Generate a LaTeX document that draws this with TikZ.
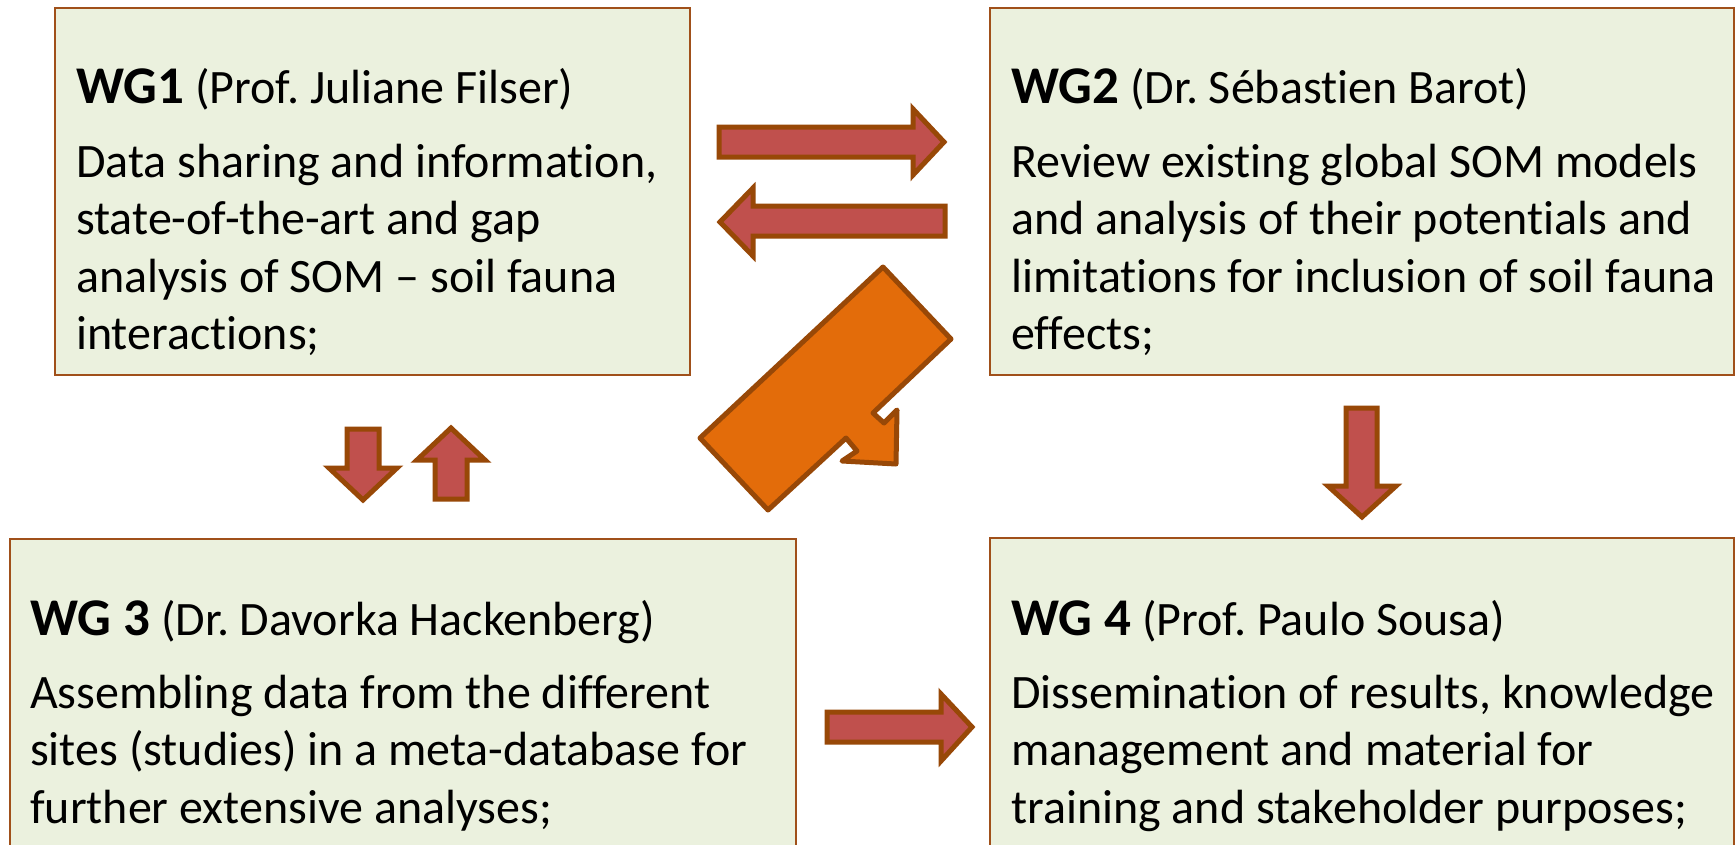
\documentclass[tikz,border=0pt]{standalone}
\usepackage{fontspec}
\setmainfont{Carlito}[RawFeature=-liga]
\frenchspacing
\definecolor{boxfill}{HTML}{EBF1DE}
\definecolor{boxedge}{HTML}{A0501A}
\definecolor{arrowred}{HTML}{C0504D}
\definecolor{arrowedge}{HTML}{984807}
\definecolor{arroworange}{HTML}{E36C0A}
\tikzset{
  wgbox/.style={draw=boxedge, fill=boxfill, line width=2pt},
  redarrow/.style={fill=arrowred, draw=arrowedge, line width=5pt, line join=miter},
  orangearrow/.style={fill=arroworange, draw=arrowedge, line width=5pt, line join=round},
  wgtitle/.style={anchor=base west, inner sep=0pt, font=\fontsize{48}{57.5}\selectfont},
  wgbody/.style={anchor=north west, inner sep=0pt, align=left, font=\fontsize{48}{57.5}\selectfont},
}
\newcommand{\wgb}[1]{{\fontsize{53}{57.5}\selectfont\bfseries #1}}
\newcommand{\fs}{\rule{0pt}{40pt}}
\begin{document}
\begin{tikzpicture}[x=1pt,y=-1pt]
\useasboundingbox (0,0) rectangle (1736,844);
\clip (0,0) rectangle (1736,844);
\fill[white] (0,0) rectangle (1736,844);

% boxes
\draw[wgbox] (55,8) rectangle (690,375) coordinate (b1);
\draw[wgbox] (990,8) rectangle (1734,375) coordinate (b2);
\draw[wgbox] (10,539) rectangle (796,860) coordinate (b3);
\draw[wgbox] (990,538) rectangle (1734,860) coordinate (b4);

% WG1
\node[wgtitle] (t1) at (76,103) {\wgb{WG1} (Prof. Juliane Filser)};
\node[wgbody] (d1) at (76,137) {\fs Data sharing and information,\\state-of-the-art and gap\\analysis of SOM – soil fauna\\interactions;};
% WG2
\node[wgtitle] (t2) at (1011,103) {\wgb{WG2} (Dr. Sébastien Barot)};
\node[wgbody] (d2) at (1011,137) {\fs Review existing global SOM models\\and analysis of their potentials and\\limitations for inclusion of soil fauna\\effects;};
% WG3
\node[wgtitle] (t3) at (30,635) {\wgb{WG 3} (Dr. Davorka Hackenberg)};
\node[wgbody] (d3) at (30,668) {\fs Assembling data from the different\\sites (studies) in a meta-database for\\further extensive analyses;};
% WG4
\node[wgtitle] (t4) at (1011,635) {\wgb{WG 4} (Prof. Paulo Sousa)};
\node[wgbody] (d4) at (1011,668) {\fs Dissemination of results, knowledge\\management and material for\\training and stakeholder purposes;};

% arrows WG1 -> WG2
\draw[redarrow] (719,127) -- (913,127) -- (913,109) -- (944,142) -- (913,175) -- (913,157) -- (719,157) -- cycle;
% WG2 -> WG1
\draw[redarrow] (945,206) -- (753,206) -- (753,188) -- (720,222) -- (753,256) -- (753,236) -- (945,236) -- cycle;
% WG1 -> WG3
\draw[redarrow] (347,429) -- (379,429) -- (379,468) -- (397,468) -- (363,500) -- (329,468) -- (347,468) -- cycle;
% WG3 -> WG1
\draw[redarrow] (435,499) -- (467,499) -- (467,460) -- (485,460) -- (451,428) -- (417,460) -- (435,460) -- cycle;
% WG2 -> WG4
\draw[redarrow] (1346,408) -- (1377,408) -- (1377,486) -- (1396,486) -- (1362,517) -- (1328,486) -- (1346,486) -- cycle;
% WG3 -> WG4
\draw[redarrow] (827,712) -- (941,712) -- (941,694) -- (972,727) -- (941,761) -- (941,742) -- (827,742) -- cycle;

% orange bent arrow WG2 -> WG3/WG4
\draw[orangearrow] (883,267) -- (951,339) -- (873,413) -- (884,423) -- (897,410) -- (896,464) -- (842,461) -- (857,451) -- (846,438) -- (768,510) -- (700,438) -- cycle;
\end{tikzpicture}
\end{document}
